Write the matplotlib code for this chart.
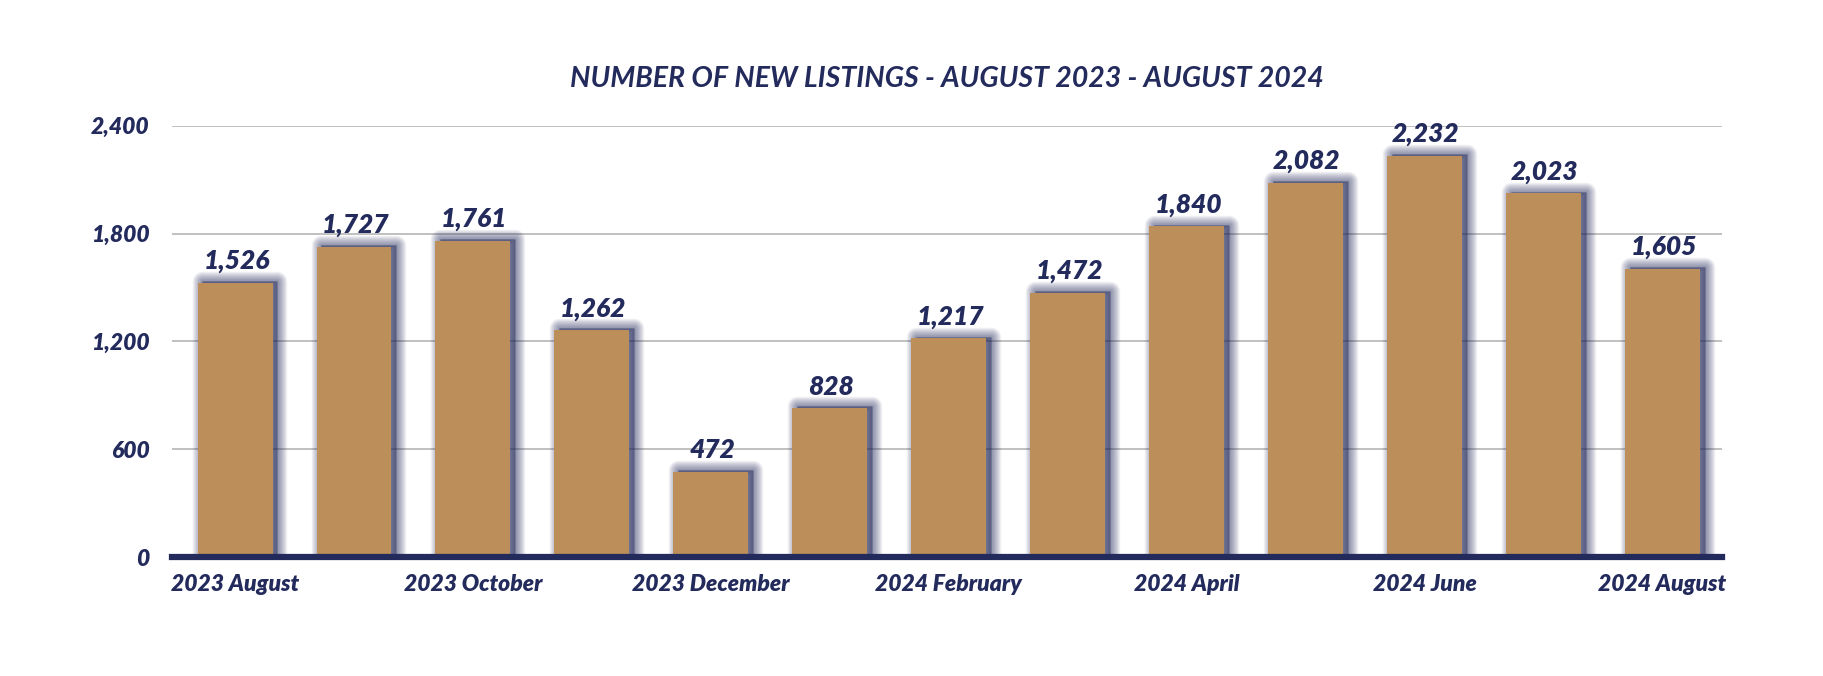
import matplotlib
matplotlib.use("Agg")
import matplotlib.pyplot as plt
import numpy as np

# data
months = ['2023 August', '2023 September', '2023 October', '2023 November',
          '2023 December', '2024 January', '2024 February', '2024 March',
          '2024 April', '2024 May', '2024 June', '2024 July', '2024 August']
new_listings = [1526, 1727, 1761, 1262, 472, 828, 1217, 1472, 1840, 2082, 2232, 2023, 1605]
y_ticks = [0, 600, 1200, 1800, 2400]

NAVY = '#232a5c'
TAN = '#bc8e5a'
GRID = '#b5b5b5'

plt.rcParams['font.family'] = ['Lato', 'DejaVu Sans']

fig = plt.figure(figsize=(18.24, 6.76), dpi=100)
ax_rect = [0.0943, 0.176, 0.8497, 0.638]
ax = fig.add_axes(ax_rect)

x = np.arange(len(months))
vals = np.array(new_listings)
width = 0.63

# === soft shadow (offset right / up), stacked translucent strokes ===
dx, dy = 0.04, 10
for lw in [14, 12.5, 11, 9.5, 8, 6.5, 5, 3.5, 2, 0]:
    ax.bar(x + dx, vals + dy, width, color=NAVY, alpha=0.065, edgecolor=NAVY,
           linewidth=lw, joinstyle='round', zorder=2)

# === bars ===
ax.bar(x, vals, width, color=TAN, zorder=3)

# value labels
for xi, v in zip(x, vals):
    ax.annotate(f"{v:,}", (xi, v), xytext=(1, 7), textcoords='offset points',
                ha='center', va='bottom', fontsize=19, fontweight='heavy',
                fontstyle='italic', color=NAVY, zorder=5)

# axes styling
ax.set_xlim(-0.53, len(months) - 0.5)
ax.set_ylim(0, 2400)
ax.set_yticks(y_ticks)
ax.set_yticklabels([f"{t:,}" for t in y_ticks])
ax.set_xticks(x[::2])
ax.set_xticklabels(months[::2])
for lab in ax.get_xticklabels() + ax.get_yticklabels():
    lab.set_fontsize(16.5)
    lab.set_fontweight('heavy')
    lab.set_fontstyle('italic')
    lab.set_color(NAVY)
ax.tick_params(axis='both', length=0)
ax.tick_params(axis='y', pad=16)
ax.tick_params(axis='x', pad=12)

ax.grid(axis='y', color=GRID, linewidth=1.2, zorder=0)
ax.set_axisbelow(True)
for s in ax.spines.values():
    s.set_visible(False)
ax.axhline(0, color=NAVY, linewidth=4.5, zorder=6, clip_on=False)

# title centred over the plot area
fig.text(ax_rect[0] + ax_rect[2] / 2, 0.883,
         "NUMBER OF NEW LISTINGS - AUGUST 2023 - AUGUST 2024",
         ha='center', va='center', fontsize=20.5, fontstyle='italic',
         fontweight='bold', color=NAVY)

fig.savefig("out.png", dpi=100, facecolor='white')
